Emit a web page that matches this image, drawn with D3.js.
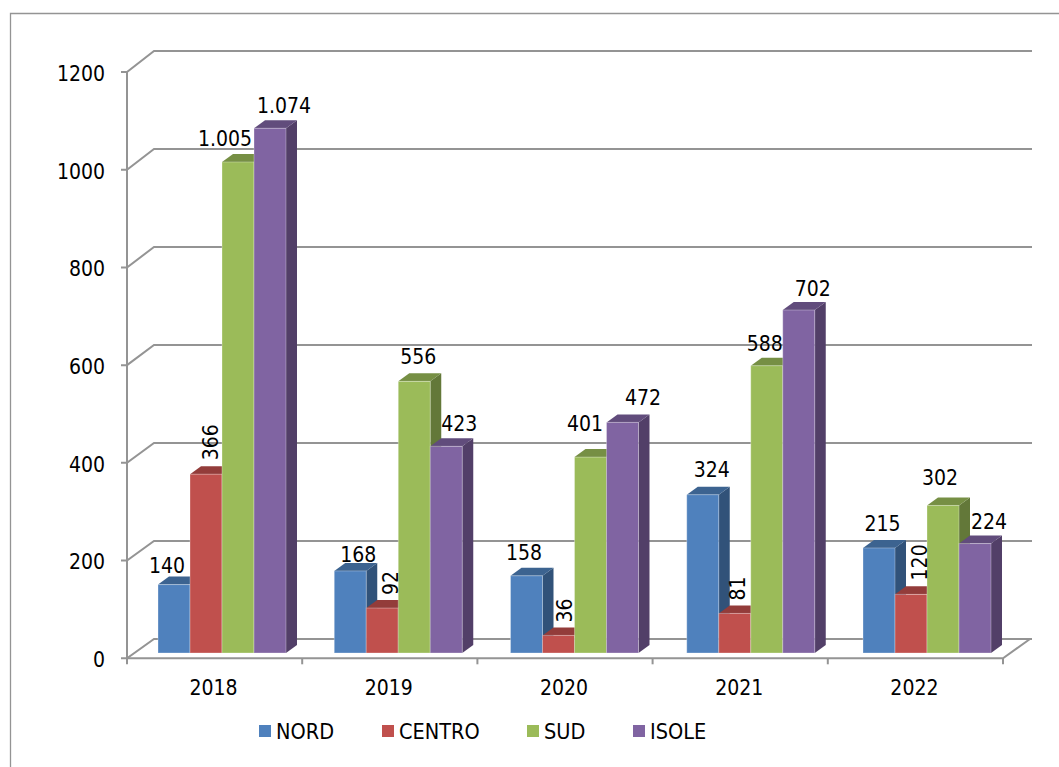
<!DOCTYPE html>
<html>
<head>
<meta charset="utf-8">
<script src="https://cdn.jsdelivr.net/npm/d3@7"></script>
<style>
  html, body { margin: 0; padding: 0; background: #fff; overflow: hidden; }
  text { font-family: "DejaVu Sans Condensed", "DejaVu Sans", sans-serif; fill: #000; }
</style>
</head>
<body>
<div id="chart"></div>
<script>
var years = ["2018", "2019", "2020", "2021", "2022"];
var seriesNames = ["NORD", "CENTRO", "SUD", "ISOLE"];
var nord = [140, 168, 158, 324, 215];
var centro = [366, 92, 36, 81, 120];
var sud = [1005, 556, 401, 588, 302];
var isole = [1074, 423, 472, 702, 224];
var yTicks = [0, 200, 400, 600, 800, 1000, 1200];

var allValues = [nord, centro, sud, isole];

var width = 1059, height = 767;
var grid = "#949494";
var fronts = ["#4f81bd", "#c0504d", "#9bbb59", "#8064a2"];
var tops = ["#3c6390", "#933c3a", "#768f44", "#614c7c"];
var sides = ["#315279", "#7c3331", "#637839", "#523f68"];
var fontSize = 21;

// 3d box depth of the plot and of the bars
var wallDx = 27;
var barDx = 11, barDy = -8;

var svg = d3.select("#chart").append("svg")
    .attr("width", width)
    .attr("height", height);

// axis is a bit narrower than the spacing of the bar groups in the original
var x = d3.scaleBand().domain(years).range([127, 1003]);
var xBars = d3.scaleBand().domain(years).range([127, 1008.25]);
var inner = d3.scaleBand().domain(seriesNames).range([31, 31 + 128]);
var y = d3.scaleLinear().domain([0, 1200]).range([658.3, 72]);
var yBack = d3.scaleLinear().domain([0, 1200]).range([639, 51]);
var barBase = 653;
function barTop(v) { return barBase - (y(0) - y(v)); }

// outer frame, open on the right
svg.append("path")
    .attr("d", "M10.5,767V13.5H1059")
    .attr("fill", "none")
    .attr("stroke", grid)
    .attr("stroke-width", 1.3);

// walls
var gridG = svg.append("g").attr("fill", "none").attr("stroke", grid).attr("stroke-width", 2);
yTicks.forEach(function(t) {
  gridG.append("path").attr("d", "M121," + y(t) + "H127L" + (127 + wallDx) + "," + yBack(t) + "H" + (1005 + wallDx));
});
gridG.append("path").attr("d", "M127," + y(1200) + "V" + y(0) + "H1003L" + (1003 + wallDx) + "," + yBack(0));
years.concat("end").forEach(function(d) {
  var xx = d == "end" ? 1003 : x(d);
  gridG.append("path").attr("d", "M" + xx + "," + y(0) + "v6");
});

// y tick labels
svg.append("g").selectAll("text").data(yTicks).enter().append("text")
    .attr("x", 105)
    .attr("y", function(d) { return y(d) + 1.5; })
    .attr("dy", ".35em")
    .attr("text-anchor", "end")
    .attr("font-size", fontSize)
    .text(function(d) { return d; });

// x labels
svg.append("g").selectAll("text").data(years).enter().append("text")
    .attr("x", function(d) { return x(d) + x.bandwidth() / 2 - 1; })
    .attr("y", 695)
    .attr("text-anchor", "middle")
    .attr("font-size", fontSize)
    .text(function(d) { return d; });

// bars, drawn left to right so each front covers the side of the one before
years.forEach(function(yr, i) {
  var g = svg.append("g");
  seriesNames.forEach(function(s, k) {
    var v = allValues[k][i];
    var x0 = xBars(yr) + inner(s), w = inner.bandwidth();
    var t = barTop(v);
    g.append("path")
      .attr("d", "M" + (x0 + w) + "," + barBase + "V" + t + "l" + barDx + "," + barDy + "V" + (barBase + barDy) + "Z")
      .attr("fill", sides[k]);
    g.append("path")
      .attr("d", "M" + x0 + "," + t + "l" + barDx + "," + barDy + "h" + w + "l" + (-barDx) + "," + (-barDy) + "Z")
      .attr("fill", tops[k]);
    g.append("rect")
      .attr("x", x0).attr("y", t).attr("width", w).attr("height", barBase - t)
      .attr("fill", fronts[k])
      .attr("stroke", "#fff")
      .attr("stroke-opacity", 0.3)
      .attr("stroke-width", 1);
  });
});

// data labels: nudge of the label centre from bar centre/top, per series-year, third item = rotated
var labelTweaks = {
  "0-0": [-7, -19], "1-0": [5, -32, 1], "2-0": [-13, -23], "3-0": [14, -23],
  "0-1": [8, -16], "1-1": [8, -25, 1], "2-1": [4, -24.5], "3-1": [13, -23],
  "0-2": [-2.5, -23], "1-2": [6.5, -25, 1], "2-2": [-5.5, -33], "3-2": [20.5, -24.5],
  "0-3": [9, -25], "1-3": [3, -25, 1], "2-3": [-2, -22], "3-3": [14, -21],
  "0-4": [3.5, -24], "1-4": [9, -32, 1], "2-4": [-3, -28], "3-4": [14, -22]
};
function fmt(v) { return v >= 1000 ? d3.format(",")(v).replace(",", ".") : v; }
seriesNames.forEach(function(s, k) {
  years.forEach(function(yr, i) {
    var v = allValues[k][i];
    var tw = labelTweaks[k + "-" + i];
    var cx = xBars(yr) + inner(s) + inner.bandwidth() / 2 + tw[0];
    var cy = barTop(v) + tw[1];
    svg.append("text")
      .attr("text-anchor", "middle")
      .attr("dy", ".35em")
      .attr("font-size", fontSize)
      .attr("transform", "translate(" + cx + "," + cy + ")" + (tw[2] ? " rotate(-90)" : ""))
      .text(fmt(v));
  });
});

// legend
var legendX = [259, 382, 527, 633];
var legend = svg.append("g");
seriesNames.forEach(function(s, k) {
  legend.append("rect")
    .attr("x", legendX[k]).attr("y", 725).attr("width", 12).attr("height", 12)
    .attr("fill", fronts[k]);
  legend.append("text")
    .attr("x", legendX[k] + 17).attr("y", 739)
    .attr("font-size", 21.5)
    .text(s);
});
</script>
</body>
</html>
